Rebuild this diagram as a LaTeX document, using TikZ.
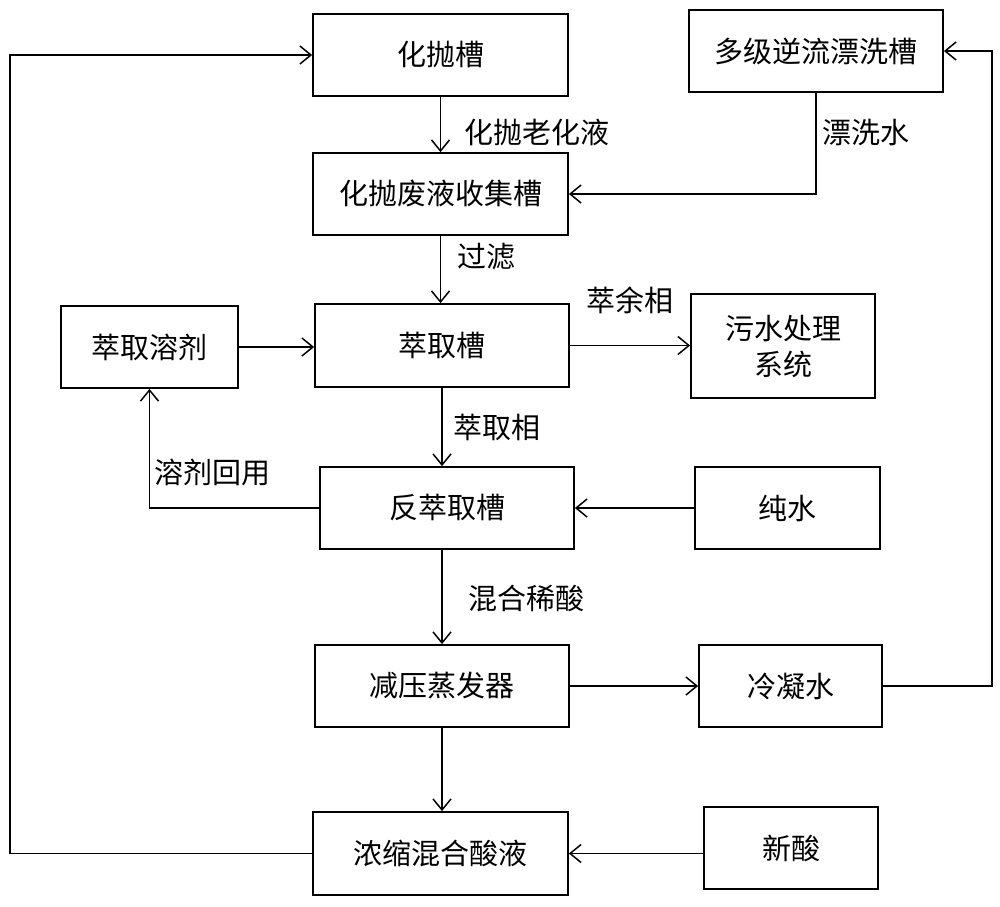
\documentclass[tikz,border=0pt]{standalone}
\usepackage{fontspec}
\setmainfont{Noto Sans CJK SC}
\usetikzlibrary{arrows.meta}
\begin{document}
\begin{tikzpicture}[x=1pt,y=-1pt,
  box/.style={draw, line width=1.8pt, inner sep=0pt, align=center, font=\fontsize{29}{36}\selectfont},
  lbl/.style={inner sep=0pt, font=\fontsize{29}{36}\selectfont},
  conn/.style={line width=1.5pt, -{Straight Barb[length=11pt,width=18pt,line width=1.5pt]}}]
\useasboundingbox (0,0) rectangle (1000,906);
\node[box, minimum width=255, minimum height=82] (a) at (440.5,55) {化抛槽};
\node[box, minimum width=254, minimum height=82] (b) at (816,51) {多级逆流漂洗槽};
\node[box, minimum width=255, minimum height=82] (c) at (440.5,194) {化抛废液收集槽};
\node[box, minimum width=177, minimum height=82] (d) at (149.5,347) {萃取溶剂};
\node[box, minimum width=254, minimum height=83] (e) at (442,345.5) {萃取槽};
\node[box, minimum width=184, minimum height=104] (f) at (783,346) {污水处理\\系统};
\node[box, minimum width=254, minimum height=82] (g) at (447,508) {反萃取槽};
\node[box, minimum width=185, minimum height=82] (h) at (787.5,508) {纯水};
\node[box, minimum width=254, minimum height=82] (i) at (442,686) {减压蒸发器};
\node[box, minimum width=183, minimum height=82] (j) at (790.5,686) {冷凝水};
\node[box, minimum width=255, minimum height=83] (k) at (440.5,853.5) {浓缩混合酸液};
\node[box, minimum width=174, minimum height=82] (l) at (791,848) {新酸};
\coordinate (rgt) at (992,0);
\coordinate (lft) at (10,0);
% labels
\node[lbl] (t1) at (537,132) {化抛老化液};
\node[lbl] (t2) at (866,132) {漂洗水};
\node[lbl] (t3) at (486,257) {过滤};
\node[lbl] (t4) at (630,300) {萃余相};
\node[lbl] (t5) at (497,427) {萃取相};
\node[lbl] (t6) at (212,472) {溶剂回用};
\node[lbl] (t7) at (526,598) {混合稀酸};
% connectors
\draw[conn] (a.south) -- (a.south |- c.north);
\draw[conn] (b.south) |- (c.east);
\draw[conn] (c.south) -- (c.south |- e.north);
\draw[conn] (d.east) -- (d.east -| e.west);
\draw[conn] (e.east) -- (e.east -| f.west);
\draw[conn] (e.south) -- (e.south |- g.north);
\draw[conn] (g.west) -| (d.south);
\draw[conn] (h.west) -- (h.west -| g.east);
\draw[conn] (i.north |- g.south) -- (i.north);
\draw[conn] (i.east) -- (i.east -| j.west);
\draw[conn] (j.east) -- (j.east -| rgt) |- (b.east);
\draw[conn] (i.south) -- (i.south |- k.north);
\draw[conn] (k.east -| l.west) -- (k.east);
\draw[conn] (k.west) -- (k.west -| lft) |- (a.west);
\end{tikzpicture}
\end{document}
